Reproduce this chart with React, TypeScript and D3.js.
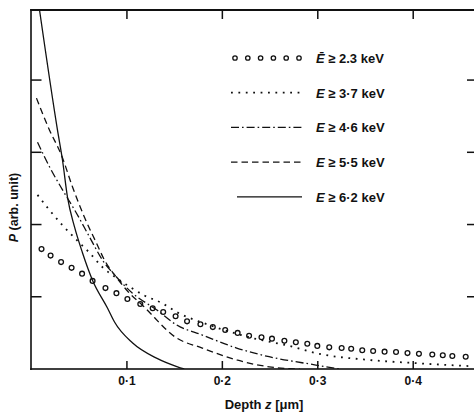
import React from "react";
import * as d3 from "d3";

const width = 474;
const height = 416;
const plot = { left: 31.5, right: 474, top: 10, bottom: 369 };

// depth z [um] / P [arb. unit]
const zCircles = [0.0105, 0.02, 0.031, 0.042, 0.053, 0.064, 0.0775, 0.089, 0.1005, 0.114, 0.127, 0.138, 0.151, 0.163, 0.177, 0.19, 0.203, 0.216, 0.228, 0.241, 0.252, 0.265, 0.277, 0.289, 0.2995, 0.312, 0.325, 0.335, 0.3466, 0.358, 0.37, 0.382, 0.394, 0.406, 0.42, 0.431, 0.441, 0.455];
const pCircles = [1.66, 1.57, 1.48, 1.4, 1.32, 1.22, 1.12, 1.05, 0.97, 0.9, 0.84, 0.79, 0.73, 0.66, 0.62, 0.58, 0.54, 0.5, 0.46, 0.44, 0.42, 0.39, 0.37, 0.35, 0.32, 0.3, 0.29, 0.28, 0.26, 0.25, 0.24, 0.235, 0.22, 0.21, 0.2, 0.19, 0.18, 0.17];

const zDotted = [0.0063, 0.0188, 0.0325, 0.047, 0.0607, 0.0743, 0.089, 0.1026, 0.118, 0.137, 0.152, 0.186, 0.228, 0.27, 0.3016, 0.354, 0.4, 0.4586];
const pDotted = [2.41, 2.2, 1.99, 1.79, 1.61, 1.41, 1.26, 1.14, 1.02, 0.91, 0.79, 0.61, 0.44, 0.32, 0.21, 0.125, 0.083, 0.04];

const zDashDot = [0.0063, 0.0188, 0.0325, 0.047, 0.0607, 0.0743, 0.09, 0.1058, 0.131, 0.152, 0.179, 0.215, 0.249, 0.298, 0.3225];
const pDashDot = [3.14, 2.8, 2.48, 2.16, 1.83, 1.51, 1.26, 1.05, 0.82, 0.61, 0.47, 0.29, 0.17, 0.055, 0];

const zDashed = [0.0052, 0.0188, 0.0314, 0.043, 0.0555, 0.068, 0.0764, 0.089, 0.1026, 0.116, 0.152, 0.179, 0.215, 0.249, 0.281];
const pDashed = [3.75, 3.31, 2.96, 2.52, 2.1, 1.745, 1.51, 1.27, 1.05, 0.886, 0.43, 0.29, 0.125, 0.03, 0];

const zSolid = [0.0084, 0.0272, 0.0325, 0.0377, 0.045, 0.0534, 0.0639, 0.0796, 0.087, 0.106, 0.131, 0.153, 0.16];
const pSolid = [4.97, 3.31, 2.89, 2.38, 1.97, 1.61, 1.23, 0.845, 0.65, 0.36, 0.15, 0.03, 0];

const legendRest = ["\u2265 2.3 keV", "\u2265 3\u00b77 keV", "\u2265 4\u00b76 keV", "\u2265 5\u00b75 keV", "\u2265 6\u00b72 keV"];
const legendE = ["E\u0304", "E", "E", "E", "E"];
const lineDash = ["", "1.8 5.6", "8 3 1.6 3", "6.5 4", ""];

const xTicks = [0.1, 0.2, 0.3, 0.4];
const yTicks = [1, 2, 3, 4];

const font = "'Liberation Sans', Arial, sans-serif";
const ink = "#111";

const x = d3.scaleLinear().domain([0, 0.4637]).range([plot.left, plot.right]);
const y = d3.scaleLinear().domain([0, 4.97]).range([plot.bottom, plot.top]);
const fmt = (d: number) => d3.format(".1f")(d).replace(".", "\u00b7");

const lineGen = d3.line<[number, number]>()
  .x(d => x(d[0])).y(d => y(d[1])).curve(d3.curveMonotoneX);

const series: [number[], number[], string, number][] = [
  [zDotted, pDotted, lineDash[1], 1.8],
  [zDashDot, pDashDot, lineDash[2], 1.3],
  [zDashed, pDashed, lineDash[3], 1.3],
  [zSolid, pSolid, lineDash[4], 1.3]
];

function Chart() {
  const yTop = y(4.97);
  const rowY = (i: number) => 58 + i * 34.7;

  return (
    <svg width={width} height={height}
      style={{ position: "absolute", left: 0, top: 0, background: "#fff" }}>
      {/* curves, clipped to the plot box by a nested svg viewport */}
      <svg x={plot.left} y={plot.top} width={plot.right - plot.left} height={plot.bottom - plot.top}
        viewBox={`${plot.left} ${plot.top} ${plot.right - plot.left} ${plot.bottom - plot.top}`}>
        {series.map(([zs, ps, dash, sw], i) => (
          <path key={i}
            d={lineGen(zs.map((z, k) => [z, ps[k]] as [number, number])) || ""}
            fill="none" stroke={ink} strokeWidth={sw}
            strokeDasharray={dash || undefined} />
        ))}
        {zCircles.map((z, k) => (
          <circle key={k} cx={x(z)} cy={y(pCircles[k])} r={2.4}
            fill="none" stroke={ink} strokeWidth={1.3} />
        ))}
      </svg>

      {/* ticks pointing inward */}
      {xTicks.map(t => (
        <g key={"x" + t}>
          <line x1={x(t)} x2={x(t)} y1={plot.bottom} y2={plot.bottom - 8} stroke={ink} strokeWidth={1.5} />
          <rect x={x(t) - 0.75} y={yTop} width={1.5} height={9} fill={ink} />
          <text x={x(t)} y={plot.bottom + 16} textAnchor="middle" fontFamily={font}
            fontSize={12} fontWeight="bold" fill={ink}>{fmt(t)}</text>
        </g>
      ))}
      {yTicks.map(t => (
        <g key={"y" + t}>
          <line x1={plot.left - 0.5} x2={plot.left + 10} y1={y(t)} y2={y(t)} stroke={ink} strokeWidth={1.5} />
          <line x1={plot.right - 7} x2={plot.right} y1={y(t)} y2={y(t)} stroke={ink} strokeWidth={1.5} />
        </g>
      ))}

      {/* legend */}
      {legendRest.map((txt, i) => {
        const yy = rowY(i);
        return (
          <g key={"l" + i}>
            {i === 0
              ? d3.range(6).map(k => (
                <circle key={k} cx={235 + k * 12.8} cy={yy} r={2.2}
                  fill="none" stroke={ink} strokeWidth={1.3} />
              ))
              : <line x1={i === 4 ? 237 : 231} x2={302} y1={yy} y2={yy}
                  stroke={ink} strokeWidth={i === 1 ? 1.8 : 1.3}
                  strokeDasharray={lineDash[i] || undefined} />}
            <text x={316} y={yy + 5} fontFamily={font} fontSize={13} fontWeight="bold" fill={ink}>
              <tspan fontStyle="italic">{legendE[i]}</tspan>
              <tspan>{" " + txt}</tspan>
            </text>
          </g>
        );
      })}

      {/* axis titles */}
      <text transform={`translate(18,${(plot.top + plot.bottom) / 2 + 18}) rotate(-90)`}
        textAnchor="middle" fontFamily={font} fontSize={12.5} fontWeight="bold" fill={ink}>
        <tspan fontStyle="italic">P</tspan>
        <tspan>{" (arb. unit)"}</tspan>
      </text>
      <text x={264} y={409} textAnchor="middle" fontFamily={font} fontSize={13} fontWeight="bold" fill={ink}>
        <tspan>{"Depth "}</tspan>
        <tspan fontStyle="italic">z</tspan>
        <tspan>{" [\u03bcm]"}</tspan>
      </text>

      {/* frame, drawn last */}
      <rect x={plot.left - 1.3} y={yTop - 1} width={plot.right - plot.left + 1.3} height={2} fill={ink} />
      <rect x={plot.left - 1.3} y={yTop - 1} width={1.6} height={plot.bottom - yTop + 2} fill={ink} />
      <rect x={plot.left - 1.3} y={plot.bottom - 0.8} width={plot.right - plot.left + 1.3} height={1.6} fill={ink} />
    </svg>
  );
}

export default function App() {
  return <Chart />;
}
